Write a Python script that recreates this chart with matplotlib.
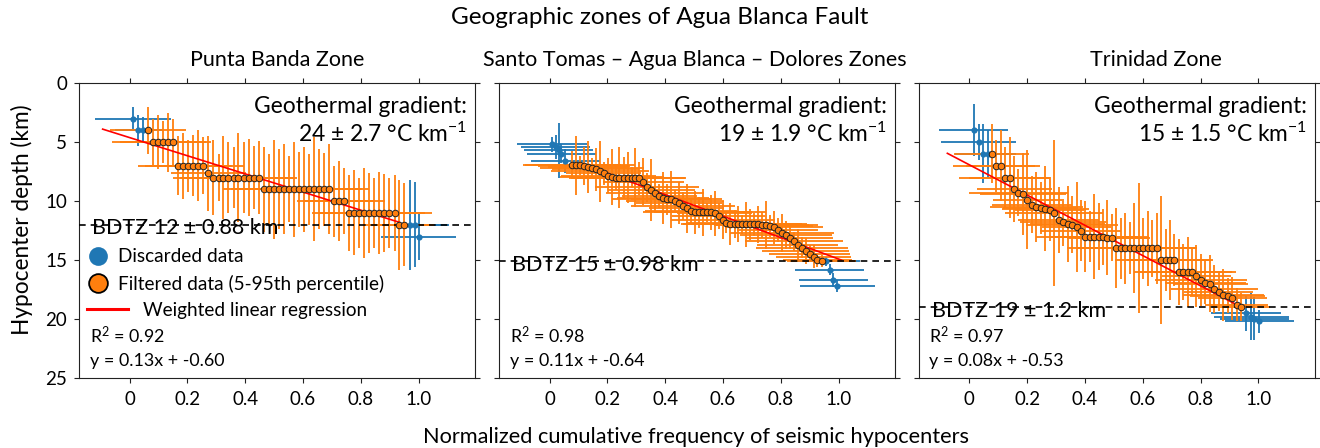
import numpy as np
import matplotlib
matplotlib.use("Agg")
import matplotlib.pyplot as plt
from matplotlib.lines import Line2D

plt.rcParams['font.family'] = ['Lato', 'DejaVu Sans']
plt.rcParams['mathtext.fontset'] = 'custom'
plt.rcParams['mathtext.rm'] = 'Lato'
plt.rcParams['mathtext.it'] = 'Lato:italic'
plt.rcParams['mathtext.bf'] = 'Lato:bold'

BLUE = '#1f77b4'
ORANGE = '#ff7f0e'

# ---------------- Punta Banda Zone ----------------
blue1_x = [0.012, 0.029, 0.047, 0.969, 0.986, 1.0]
blue1_y = [3.0, 4.0, 4.0, 12.0, 12.0, 13.0]
blue1_xerr = [0.13, 0.08, 0.07, 0.13, 0.12, 0.13]
blue1_yerr = [1.0, 1.3, 1.1, 3.8, 3.6, 2.0]

orange1_x = [0.064, 0.081, 0.099, 0.116, 0.134, 0.151, 0.168, 0.186, 0.203, 0.221,
             0.238, 0.255, 0.273, 0.290, 0.308, 0.325, 0.342, 0.360, 0.377, 0.395,
             0.412, 0.429, 0.447, 0.464, 0.482, 0.499, 0.516, 0.534, 0.551, 0.569,
             0.586, 0.603, 0.621, 0.638, 0.656, 0.673, 0.690, 0.708, 0.725, 0.743,
             0.760, 0.777, 0.795, 0.812, 0.830, 0.847, 0.864, 0.882, 0.899, 0.917,
             0.934, 0.951]
orange1_y = [4, 5, 5, 5, 5, 5, 7, 7, 7, 7,
             7, 7, 7.65, 8, 8, 8, 8, 8, 8, 8,
             8, 8, 8, 9, 9, 9, 9, 9, 9, 9,
             9, 9, 9, 9, 9, 9, 9, 10, 10, 10,
             11, 11, 11, 11, 11, 11, 11, 11, 11, 11,
             12, 12]
orange1_xerr = [0.13, 0.14, 0.12, 0.15, 0.11, 0.13, 0.14, 0.12, 0.15, 0.13,
                0.11, 0.14, 0.13, 0.14, 0.12, 0.15, 0.13, 0.11, 0.14, 0.12,
                0.13, 0.15, 0.12, 0.14, 0.13, 0.11, 0.15, 0.12, 0.14, 0.13,
                0.12, 0.14, 0.11, 0.13, 0.15, 0.12, 0.14, 0.13, 0.12, 0.14,
                0.13, 0.11, 0.14, 0.12, 0.15, 0.13, 0.12, 0.14, 0.11, 0.13,
                0.12, 0.10]
orange1_yerr = [2.0, 2.0, 2.3, 1.8, 2.5, 2.0, 2.5, 2.8, 2.2, 2.6,
                3.0, 2.4, 3.2, 3.2, 2.0, 3.5, 3.0, 2.6, 3.8, 3.0,
                3.3, 2.7, 3.1, 3.6, 3.0, 4.2, 3.4, 3.8, 2.8, 4.0,
                3.2, 3.6, 3.0, 4.4, 3.4, 3.1, 3.8, 3.0, 3.4, 2.8,
                3.2, 3.6, 3.0, 3.8, 3.4, 3.0, 3.5, 3.3, 3.0, 3.2,
                3.8, 3.5]

# ---------------- Santo Tomas - Agua Blanca - Dolores ----------------
blue2_x = [0.009, 0.021, 0.032, 0.041, 0.055, 0.955, 0.969, 0.982, 0.996]
blue2_y = [5.2, 5.4, 5.7, 6.0, 6.6, 15.1, 15.8, 16.7, 17.2]
blue2_xerr = [0.12, 0.12, 0.12, 0.12, 0.12, 0.12, 0.12, 0.12, 0.13]
blue2_yerr = [0.6, 1.0, 2.3, 0.8, 1.0, 0.4, 0.5, 0.6, 0.5]

orange2_x = [0.078, 0.092, 0.105, 0.119, 0.133, 0.146, 0.160, 0.174, 0.188, 0.201,
             0.215, 0.229, 0.242, 0.256, 0.270, 0.284, 0.297, 0.311, 0.325, 0.338,
             0.352, 0.366, 0.379, 0.393, 0.407, 0.421, 0.434, 0.448, 0.462, 0.475,
             0.489, 0.503, 0.516, 0.530, 0.544, 0.558, 0.571, 0.585, 0.599, 0.612,
             0.626, 0.640, 0.653, 0.667, 0.681, 0.695, 0.708, 0.722, 0.736, 0.749,
             0.763, 0.777, 0.790, 0.804, 0.818, 0.832, 0.845, 0.859, 0.873, 0.886,
             0.900, 0.914, 0.927, 0.941]
orange2_y = [6.95, 6.95, 6.98, 7.03, 7.12, 7.23, 7.31, 7.48, 7.65, 7.85,
             7.97, 8.0, 8.0, 8.0, 8.0, 8.0, 8.0, 8.05, 8.36, 8.84,
             9.07, 9.32, 9.58, 9.77, 9.86, 9.86, 9.97, 10.14, 10.42, 10.62,
             10.82, 10.96, 10.96, 10.96, 10.96, 10.96, 11.02, 11.27, 11.61, 11.84,
             11.95, 11.95, 11.95, 11.95, 11.95, 11.96, 11.97, 11.98, 12.0, 12.03,
             12.1, 12.2, 12.46, 12.7, 12.88, 13.1, 13.4, 13.7, 13.95, 14.2,
             14.45, 14.7, 15.0, 15.08]
orange2_xerr = [0.17, 0.15, 0.19, 0.16, 0.14, 0.18, 0.15, 0.17, 0.13, 0.16,
                0.18, 0.14, 0.16, 0.19, 0.15, 0.13, 0.17, 0.16, 0.14, 0.18,
                0.15, 0.17, 0.13, 0.16, 0.19, 0.14, 0.17, 0.15, 0.18, 0.13,
                0.16, 0.18, 0.14, 0.17, 0.15, 0.19, 0.13, 0.16, 0.18, 0.14,
                0.17, 0.15, 0.19, 0.16, 0.14, 0.18, 0.15, 0.17, 0.16, 0.18,
                0.15, 0.17, 0.14, 0.18, 0.16, 0.15, 0.17, 0.14, 0.16, 0.15,
                0.14, 0.13, 0.12, 0.12]
orange2_yerr = [1.2, 2.5, 0.8, 1.6, 2.2, 0.9, 1.8, 2.6, 1.0, 1.5,
                2.4, 1.1, 2.6, 1.7, 2.2, 0.9, 2.5, 1.4, 2.0, 1.2,
                2.6, 1.5, 1.0, 2.2, 1.3, 2.4, 0.9, 1.8, 1.2, 2.1,
                1.0, 1.8, 1.3, 2.0, 0.8, 1.5, 1.9, 1.1, 1.6, 0.9,
                1.8, 1.2, 1.5, 0.8, 1.9, 1.3, 1.0, 1.6, 1.1, 2.0,
                0.9, 1.4, 1.0, 1.6, 1.2, 1.0, 0.8, 1.3, 0.9, 1.1,
                0.7, 1.0, 0.6, 0.5]

# ---------------- Trinidad Zone ----------------
blue3_x = [0.015, 0.032, 0.049, 0.063, 0.957, 0.975, 0.986, 1.003]
blue3_y = [4.0, 5.0, 6.0, 6.0, 19.5, 19.8, 19.95, 20.2]
blue3_xerr = [0.12, 0.13, 0.10, 0.10, 0.12, 0.13, 0.12, 0.12]
blue3_yerr = [2.2, 1.5, 2.5, 2.0, 1.5, 2.0, 1.8, 1.0]

orange3_x = [0.078, 0.093, 0.109, 0.124, 0.140, 0.155, 0.170, 0.186, 0.201, 0.217,
             0.232, 0.247, 0.263, 0.278, 0.294, 0.309, 0.324, 0.340, 0.355, 0.371,
             0.386, 0.401, 0.417, 0.432, 0.448, 0.463, 0.478, 0.494, 0.509, 0.525,
             0.540, 0.555, 0.571, 0.586, 0.602, 0.617, 0.632, 0.648, 0.663, 0.679,
             0.694, 0.709, 0.725, 0.740, 0.756, 0.771, 0.786, 0.802, 0.817, 0.833,
             0.848, 0.863, 0.879, 0.894, 0.910, 0.925, 0.940]
orange3_y = [6.0, 7.0, 7.0, 8.0, 8.0, 9.0, 9.3, 9.4, 9.9, 10.3,
             10.5, 10.6, 10.65, 10.75, 11.0, 11.6, 11.8, 11.95, 12.0, 12.2,
             12.5, 13.0, 13.0, 13.0, 13.0, 13.05, 13.1, 13.1, 14.0, 14.0,
             14.0, 14.0, 14.0, 14.0, 14.0, 14.0, 14.0, 14.0, 15.0, 15.0,
             15.0, 15.0, 16.0, 16.0, 16.0, 16.0, 16.35, 16.65, 16.9, 17.0,
             17.45, 17.7, 17.95, 18.0, 18.25, 18.8, 19.0]
orange3_xerr = [0.13, 0.15, 0.12, 0.16, 0.14, 0.13, 0.17, 0.15, 0.12, 0.14,
                0.16, 0.13, 0.15, 0.12, 0.17, 0.14, 0.15, 0.13, 0.16, 0.12,
                0.14, 0.17, 0.13, 0.15, 0.12, 0.16, 0.14, 0.13, 0.17, 0.15,
                0.12, 0.14, 0.16, 0.13, 0.15, 0.17, 0.12, 0.14, 0.16, 0.13,
                0.15, 0.12, 0.14, 0.17, 0.13, 0.15, 0.12, 0.16, 0.14, 0.13,
                0.15, 0.12, 0.14, 0.13, 0.12, 0.11, 0.10]
orange3_yerr = [2.5, 2.2, 3.0, 2.6, 3.4, 2.8, 2.0, 3.5, 4.2, 2.4,
                3.0, 2.2, 3.6, 2.6, 6.2, 2.8, 2.0, 3.2, 2.4, 3.8,
                2.6, 3.0, 2.2, 3.6, 2.8, 2.4, 3.2, 2.0, 3.4, 2.6,
                3.0, 2.2, 3.8, 5.5, 2.6, 3.2, 2.4, 3.0, 5.4, 2.6,
                3.4, 2.2, 2.8, 2.4, 3.0, 2.0, 2.6, 2.2, 1.8, 2.4,
                2.0, 1.6, 2.2, 1.5, 1.8, 1.4, 1.2]

# regression lines (x = a * depth + b) and depth span drawn
reg_a = [0.13, 0.11, 0.078]
reg_b = [-0.60, -0.64, -0.54]
reg_depths = [(3.9, 11.8), (6.9, 15.0), (5.95, 18.8)]

bdtz = [12.0, 15.1, 19.0]
bdtz_labels = ['BDTZ 12 ± 0.88 km', 'BDTZ 15 ± 0.98 km', 'BDTZ 19 ± 1.2 km']
gradients = ['24 ± 2.7 °C km$^{-1}$', '19 ± 1.9 °C km$^{-1}$', '15 ± 1.5 °C km$^{-1}$']
r2_labels = ['R$^2$ = 0.92', 'R$^2$ = 0.98', 'R$^2$ = 0.97']
eq_labels = ['y = 0.13x + -0.60', 'y = 0.11x + -0.64', 'y = 0.08x + -0.53']
titles = ['Punta Banda Zone', 'Santo Tomas – Agua Blanca – Dolores Zones', 'Trinidad Zone']
title_x = [0.5, 0.495, 0.598]

zones = [
    (blue1_x, blue1_y, blue1_xerr, blue1_yerr, orange1_x, orange1_y, orange1_xerr, orange1_yerr),
    (blue2_x, blue2_y, blue2_xerr, blue2_yerr, orange2_x, orange2_y, orange2_xerr, orange2_yerr),
    (blue3_x, blue3_y, blue3_xerr, blue3_yerr, orange3_x, orange3_y, orange3_xerr, orange3_yerr),
]

fig = plt.figure(figsize=(13.2, 4.48), dpi=100)
lefts = [0.0598, 0.378, 0.696]
axes = [fig.add_axes([l, 0.156, 0.300, 0.6585]) for l in lefts]

for i, ax in enumerate(axes):
    bx, by, bxe, bye, ox, oy, oxe, oye = zones[i]
    ax.errorbar(bx, by, xerr=bxe, yerr=bye, fmt='none', ecolor=BLUE, elinewidth=1.3, zorder=2)
    ax.errorbar(ox, oy, xerr=oxe, yerr=oye, fmt='none', ecolor=ORANGE, elinewidth=1.3, zorder=2)
    d = np.array(reg_depths[i])
    ax.plot(reg_a[i] * d + reg_b[i], d, color='red', lw=1.2, zorder=3)
    ax.plot(bx, by, 'o', color=BLUE, ms=4.5, mec='none', zorder=4)
    ax.plot(ox, oy, 'o', color=ORANGE, ms=4.7, mec='#222222', mew=0.7, zorder=5)
    ax.axhline(bdtz[i], color='black', lw=1.2, ls=(0, (4, 3)), zorder=3)

    ax.text(0.033, bdtz[i] + 0.3, bdtz_labels[i], transform=ax.get_yaxis_transform(),
            fontsize=15.5, va='center', ha='left', zorder=6)
    ax.text(0.98, 2.0, 'Geothermal gradient:', transform=ax.get_yaxis_transform(),
            fontsize=16.4, va='center', ha='right')
    ax.text(0.98, 4.3, gradients[i], transform=ax.get_yaxis_transform(),
            fontsize=16.4, va='center', ha='right')
    ax.text(0.027, 0.143, r2_labels[i], transform=ax.transAxes, fontsize=12.9, va='center')
    ax.text(0.027, 0.058, eq_labels[i], transform=ax.transAxes, fontsize=12.9, va='center')

    ax.set_xlim(-0.175, 1.195)
    ax.set_ylim(25, 0)
    ax.set_xticks([0, 0.2, 0.4, 0.6, 0.8, 1.0])
    ax.set_xticklabels(['0', '0.2', '0.4', '0.6', '0.8', '1.0'])
    ax.set_yticks([0, 5, 10, 15, 20, 25])
    ax.tick_params(top=True, right=True, direction='out', length=3.5, width=0.8,
                   labelsize=13.5, colors='#222222', labelcolor='black')
    ax.tick_params(axis='x', pad=6)
    ax.tick_params(axis='y', pad=5)
    if i > 0:
        ax.tick_params(labelleft=False)
    for s in ax.spines.values():
        s.set_linewidth(0.8)
        s.set_color('#222222')
    ax.set_title(titles[i], fontsize=15.5, pad=12, x=title_x[i])

# legend in first panel
ax = axes[0]
h1 = Line2D([], [], ls='none', marker='o', ms=13.5, color=BLUE, mec='none')
h2 = Line2D([], [], ls='none', marker='o', ms=13.5, color=ORANGE, mec='black', mew=1.3)
leg1 = ax.legend([h1, h2], ['Discarded data', 'Filtered data (5-95th percentile)'],
                 loc='center left', bbox_to_anchor=(0.02, 0.364), frameon=False,
                 fontsize=13.7, handlelength=1.15, handletextpad=0.5, labelspacing=0.5,
                 borderpad=0, borderaxespad=0)
ax.add_artist(leg1)
h3 = Line2D([], [], color='red', lw=2.2)
ax.legend([h3], ['Weighted linear regression'], loc='center left',
          bbox_to_anchor=(0.02, 0.2305), frameon=False, fontsize=13.7,
          handlelength=2.15, handletextpad=0.8, borderpad=0, borderaxespad=0)

fig.text(0.5, 0.96, 'Geographic zones of Agua Blanca Fault', ha='center', va='center', fontsize=17.5)
fig.text(0.527, 0.025, 'Normalized cumulative frequency of seismic hypocenters',
         ha='center', va='center', fontsize=15.7)
fig.text(0.0167, 0.509, 'Hypocenter depth (km)', rotation=90, ha='center', va='center',
         fontsize=16.3)

fig.savefig('out.png', dpi=100)
